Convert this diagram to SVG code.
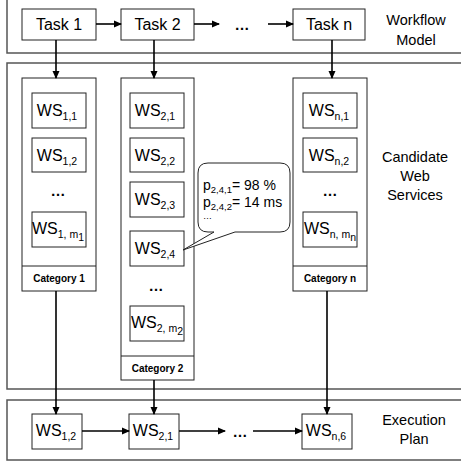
<svg xmlns="http://www.w3.org/2000/svg" width="461" height="464" viewBox="0 0 461 464">
<defs>
<marker id="ah" markerWidth="8" markerHeight="8" refX="7" refY="4" orient="auto" markerUnits="userSpaceOnUse">
<path d="M0,0.5 L8,4 L0,7.5 z" fill="#000"/>
</marker>
<style>
.panel{fill:#fff;stroke:#555;stroke-width:1.5}
.box{fill:#fff;stroke:#222;stroke-width:1}
.t{font-family:"Liberation Sans",Arial,sans-serif;fill:#000}
.task{font-size:16px;text-anchor:middle}
.ws{font-size:16px;text-anchor:middle}
.sub{font-size:10.5px}
.cat{font-size:10px;font-weight:bold;text-anchor:middle}
.side{font-size:14.5px;text-anchor:middle}
.c{stroke:#000;stroke-width:1.6;fill:none}
.ca{stroke:#000;stroke-width:1.6;fill:none;marker-end:url(#ah)}
.dots{font-size:15px;font-weight:bold;text-anchor:middle}
</style>
</defs>
<g id="panels">
<rect class="panel" x="7" y="-2" width="470" height="55"/>
<rect class="panel" x="7" y="63" width="470" height="326"/>
<rect class="panel" x="7" y="400" width="470" height="60"/>
</g>
<g id="labels">
<text class="t side" x="416" y="25">Workflow</text>
<text class="t side" x="416" y="45">Model</text>
<text class="t side" x="415" y="162">Candidate</text>
<text class="t side" x="415" y="181">Web</text>
<text class="t side" x="415" y="200">Services</text>
<text class="t side" x="414" y="425">Execution</text>
<text class="t side" x="414" y="444">Plan</text>
</g>
<g id="task1"><rect class="box" x="22" y="9" width="74" height="31"/><text class="t task" x="59" y="30">Task 1</text></g>
<g id="task2"><rect class="box" x="121" y="9" width="73" height="31"/><text class="t task" x="157.5" y="30">Task 2</text></g>
<text class="t dots" x="242" y="30">…</text>
<g id="taskn"><rect class="box" x="293" y="9" width="72" height="31"/><text class="t task" x="329" y="30">Task n</text></g>

<g id="category1">
<rect class="box" x="22" y="78" width="74" height="213"/>
<line class="box" x1="22" y1="266" x2="96" y2="266"/>
<text class="t cat" x="59" y="282">Category 1</text>
<g id="ws11"><rect class="box" x="32" y="93" width="54" height="35"/><text class="t ws" x="57" y="116">WS<tspan class="sub" dy="4">1,1</tspan></text></g>
<g id="ws12"><rect class="box" x="32" y="138" width="54" height="34"/><text class="t ws" x="57" y="161">WS<tspan class="sub" dy="4">1,2</tspan></text></g>
<text class="t dots" x="58" y="196">…</text>
<g id="ws1m"><rect class="box" x="32" y="212" width="54" height="35"/><text class="t ws" x="58" y="234">WS<tspan class="sub" dy="4">1, m</tspan><tspan class="sub" font-size="9" dy="3">1</tspan></text></g>
</g>

<g id="category2">
<rect class="box" x="121" y="78" width="73" height="302"/>
<line class="box" x1="121" y1="356" x2="194" y2="356"/>
<text class="t cat" x="157.5" y="372">Category 2</text>
<g id="ws21"><rect class="box" x="130" y="93" width="54" height="35"/><text class="t ws" x="155" y="116">WS<tspan class="sub" dy="4">2,1</tspan></text></g>
<g id="ws22"><rect class="box" x="130" y="138" width="54" height="34"/><text class="t ws" x="155" y="161">WS<tspan class="sub" dy="4">2,2</tspan></text></g>
<g id="ws23"><rect class="box" x="130" y="182" width="54" height="35"/><text class="t ws" x="155" y="205">WS<tspan class="sub" dy="4">2,3</tspan></text></g>
<g id="ws24"><rect class="box" x="130" y="231" width="54" height="35"/><text class="t ws" x="155" y="254">WS<tspan class="sub" dy="4">2,4</tspan></text></g>
<text class="t dots" x="156" y="291">…</text>
<g id="ws2m"><rect class="box" x="130" y="306" width="54" height="35"/><text class="t ws" x="157" y="328">WS<tspan class="sub" dy="4">2, m</tspan><tspan class="sub" font-size="9" dy="3">2</tspan></text></g>
</g>

<g id="categoryn">
<rect class="box" x="293" y="78" width="74" height="213"/>
<line class="box" x1="293" y1="266" x2="367" y2="266"/>
<text class="t cat" x="330" y="282">Category n</text>
<g id="wsn1"><rect class="box" x="303" y="93" width="54" height="35"/><text class="t ws" x="329" y="116">WS<tspan class="sub" dy="4">n,1</tspan></text></g>
<g id="wsn2"><rect class="box" x="303" y="138" width="54" height="34"/><text class="t ws" x="329" y="161">WS<tspan class="sub" dy="4">n,2</tspan></text></g>
<text class="t dots" x="330" y="196">…</text>
<g id="wsnm"><rect class="box" x="303" y="212" width="54" height="35"/><text class="t ws" x="330" y="234">WS<tspan class="sub" dy="4">n, m</tspan><tspan class="sub" font-size="9" dy="3">n</tspan></text></g>
</g>

<g id="callout">
<path class="box" d="M210,163 L280,163 Q290,163 290,173 L290,222 Q290,232 280,232 L235,232 L183,250 L214,232 L208,232 Q198,232 198,222 L198,173 Q198,163 208,163 Z"/>
<text class="t" font-size="14" x="203" y="190">p<tspan font-size="9.5" dy="3">2,4,1</tspan><tspan dy="-3">= 98 %</tspan></text>
<text class="t" font-size="14" x="203" y="207">p<tspan font-size="9.5" dy="3">2,4,2</tspan><tspan dy="-3">= 14 ms</tspan></text>
<text class="t" font-size="9" x="203" y="219">…</text>
</g>

<g id="plan1"><rect class="box" x="32" y="414" width="50" height="35"/><text class="t ws" x="56" y="436">WS<tspan class="sub" dy="4">1,2</tspan></text></g>
<g id="plan2"><rect class="box" x="129" y="414" width="50" height="35"/><text class="t ws" x="153" y="436">WS<tspan class="sub" dy="4">2,1</tspan></text></g>
<text class="t dots" x="240" y="437">…</text>
<g id="plann"><rect class="box" x="302" y="414" width="50" height="35"/><text class="t ws" x="326" y="436">WS<tspan class="sub" dy="4">n,6</tspan></text></g>

<g id="connectors">
<line class="ca" x1="96" y1="24" x2="121" y2="24"/>
<line class="ca" x1="194" y1="24" x2="219" y2="24"/>
<line class="ca" x1="268" y1="24" x2="293" y2="24"/>
<line class="ca" x1="56" y1="40" x2="56" y2="78"/>
<line class="ca" x1="154" y1="40" x2="154" y2="78"/>
<line class="ca" x1="332" y1="40" x2="332" y2="78"/>
<line class="ca" x1="56" y1="291" x2="56" y2="414"/>
<line class="ca" x1="154" y1="380" x2="154" y2="414"/>
<line class="ca" x1="327" y1="291" x2="327" y2="414"/>
<line class="ca" x1="82" y1="431" x2="129" y2="431"/>
<line class="ca" x1="179" y1="431" x2="225" y2="431"/>
<line class="ca" x1="253" y1="431" x2="302" y2="431"/>
</g>
</svg>
